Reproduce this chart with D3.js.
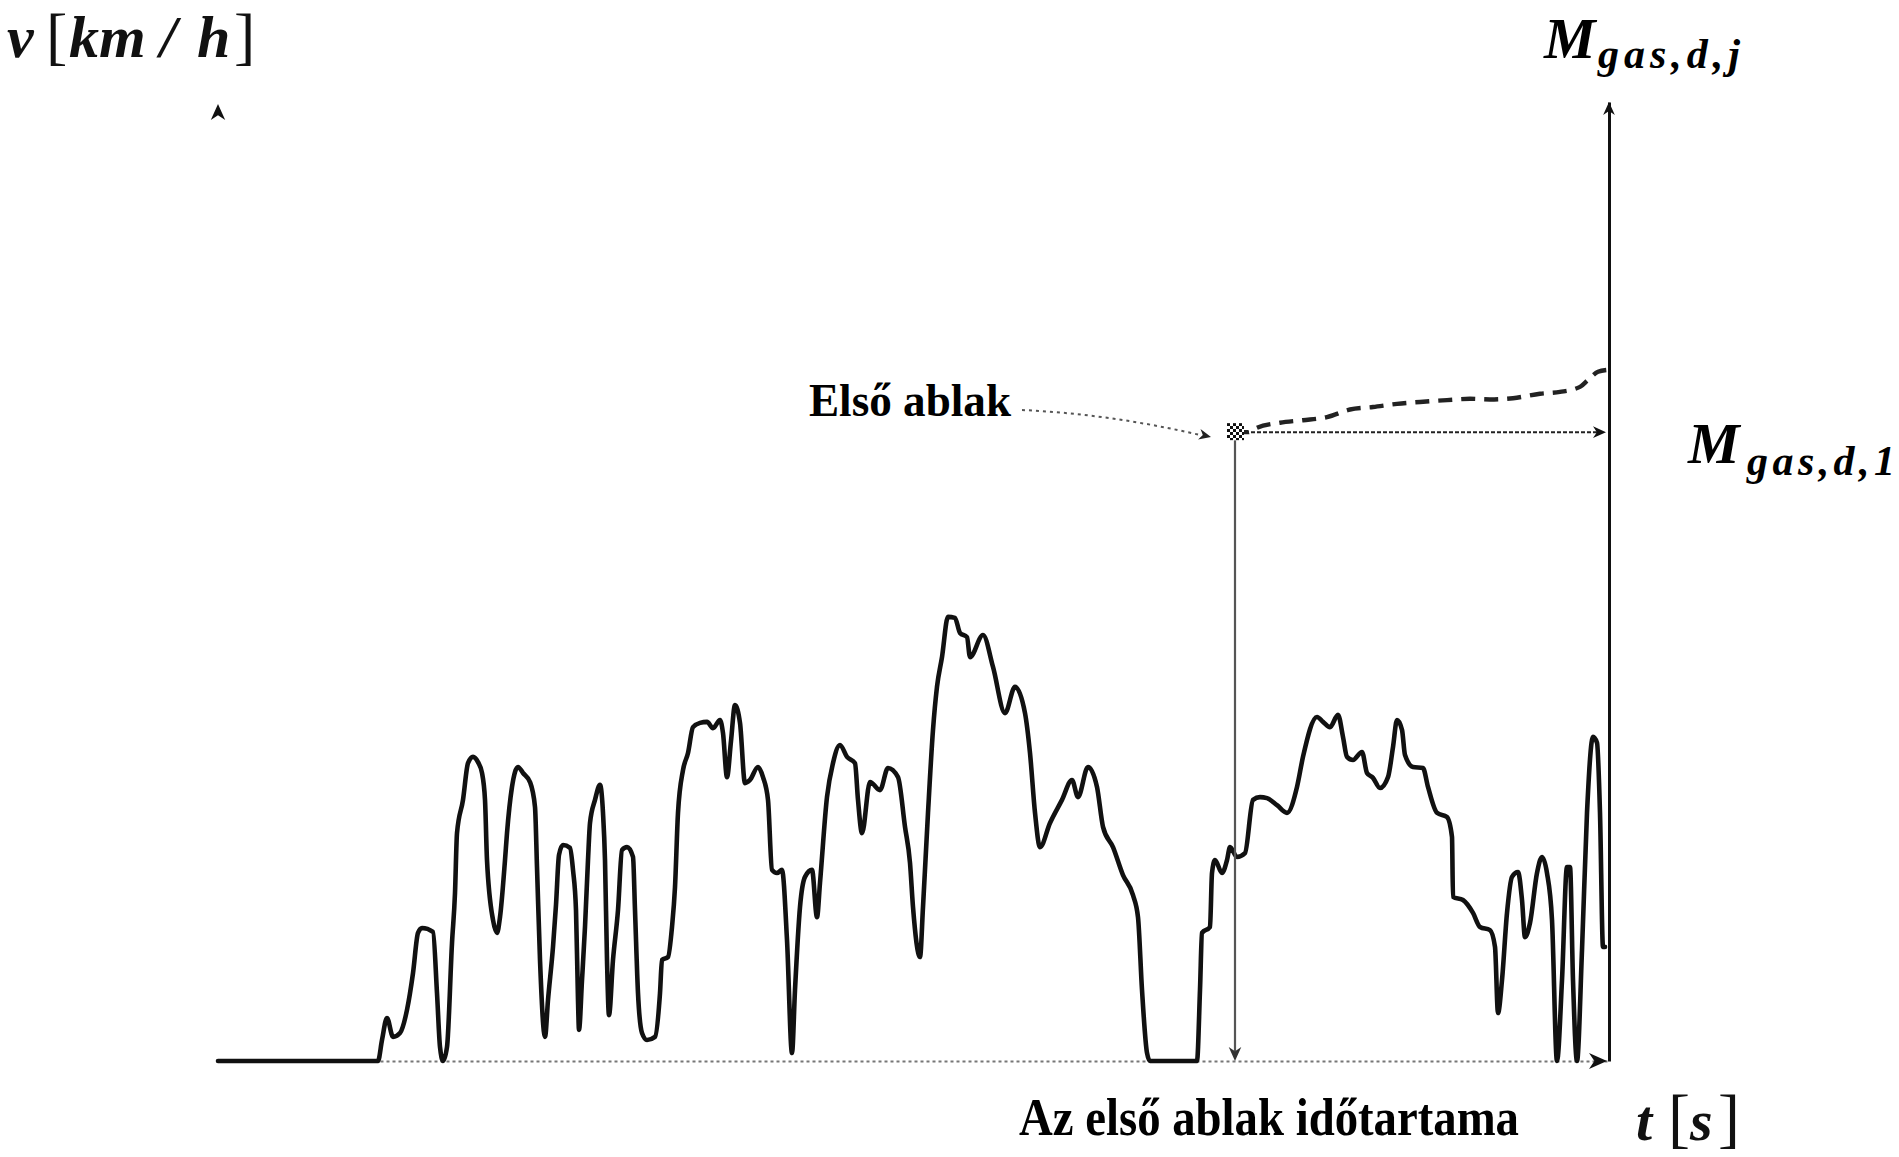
<!DOCTYPE html>
<html><head><meta charset="utf-8">
<script src="https://cdn.jsdelivr.net/npm/d3@7"></script>
<style>html,body{margin:0;padding:0;background:#fff;} svg{display:block;}</style>
</head><body>
<svg id="chart" width="1899" height="1157"></svg>
<script>
// ---- data ----
const timeS = [0,160,164,169,175,182,189,195,200,204,215,219,222,225,229,234,237,239,245,250,255,260,264,267,269,275,279,282,287,289,294,300,305,312,317,319,322,327,330,335,338,341,345,352,355,358,360,361,364,367,370,372,377,382,385,387,389,391,395,400,404,409,415,417,420,424,429,437,442,444,450,454,457,460,465,470,475,482,489,495,502,505,509,513,517,522,527,532,540,545,550,554,559,564,569,574,577,582,587,594,599,602,609,615,622,629,637,640,644,652,662,670,680,687,692,695,702,705,710,715,719,724,730,737,742,749,752,765,775,787,797,807,812,817,822,832,844,854,860,870,879,885,895,905,915,920,924,929,932,979,982,984,992,994,997,1004,1009,1012,1019,1027,1035,1042,1049,1059,1069,1079,1085,1099,1105,1112,1120,1125,1129,1135,1144,1149,1155,1162,1170,1175,1179,1184,1187,1195,1205,1210,1219,1229,1234,1235,1245,1255,1262,1272,1277,1280,1284,1289,1294,1300,1304,1307,1312,1319,1324,1329,1334,1339,1344,1349,1352,1355,1359,1364,1369,1375,1379,1382,1385,1387];
const speedKmh = [0,0,6.0,12.3,6.9,8.0,14.6,25.1,36.6,38.0,36.9,19.4,4.0,0,4.0,33.7,48.0,65.1,74.6,85.1,86.9,85.4,82.3,74.6,57.4,40.3,36.6,41.1,57.4,65.1,78.3,84.0,82.3,79.7,72.6,55.4,28.9,6.9,17.4,32.6,44.6,58.9,61.7,60.9,54.6,43.1,17.4,8.9,23.1,38.3,57.4,68.0,74.6,78.9,70.9,57.4,28.9,13.1,28.9,43.1,60.3,61.1,58.3,43.1,19.4,8.0,6.0,6.9,19.4,28.9,29.7,38.3,49.7,70.9,83.1,88.0,95.4,96.6,96.9,95.1,97.4,93.7,81.1,91.4,101.7,96.6,79.4,80.3,84.0,81.1,74.6,54.6,53.7,54.6,34.6,2.3,20.3,44.0,52.6,54.6,41.1,50.9,75.4,85.1,90.3,86.9,85.1,74.6,65.1,79.7,77.4,83.7,81.1,66.9,56.6,44.0,29.7,44.0,70.9,94.6,106.9,115.4,126.9,126.6,122.3,121.1,115.4,121.7,112.6,99.4,106.9,99.4,88.0,70.9,61.1,68.0,74.6,80.3,75.4,84.0,78.3,66.9,61.1,53.1,47.4,41.1,20.3,2.3,0,0,20.3,36.6,38.3,53.7,57.4,53.7,57.4,61.1,58.3,59.4,74.6,75.4,75.1,73.1,70.9,78.3,86.9,98.3,96.9,95.4,98.9,92.6,86.9,86.0,88.3,82.3,80.9,78.0,81.1,89.7,97.4,94.6,87.4,84.0,83.7,78.3,70.9,69.7,64.0,46.9,46.0,42.3,38.3,37.4,32.6,13.7,23.1,42.3,52.6,54.0,46.0,35.4,39.4,53.7,58.3,53.7,40.3,0,23.1,55.4,55.4,23.1,0,31.7,70.9,92.6,90.9,70.9,32.6,32.6];
const massTime  = [1017,1030,1039,1062,1085,1109,1132,1155,1179,1202,1229,1252,1272,1295,1322,1342,1362,1370,1380,1389];
const massRatio = [1.000,1.000,1.007,1.015,1.019,1.024,1.036,1.040,1.045,1.048,1.051,1.053,1.052,1.054,1.061,1.064,1.072,1.083,1.096,1.099];
const windowEndTime = 1017;
const windowMass = 1.0;
const tMax = 1391;
const yLabelParts = ["v","[","k","m","/","h","]"];
const xLabelParts = ["t","[","s","]"];
const massTopSub = "gas,d,j";
const massOneSub = "gas,d,1";
const windowLabel = "Első ablak";
const durationLabel = "Az első ablak időtartama";

// ---- scales ----
const svg = d3.select("#chart");
const x = d3.scaleLinear().domain([0, tMax]).range([218, 1609]);
const y = d3.scaleLinear().domain([0, 150]).range([1061, 536]);
const m = d3.scaleLinear().domain([0, 1.525]).range([1061, 102]);

const defs = svg.append("defs");
const pat = defs.append("pattern").attr("id","checker").attr("width",6).attr("height",6)
  .attr("patternUnits","userSpaceOnUse");
pat.append("rect").attr("width",6).attr("height",6).attr("fill","#fff");
pat.append("rect").attr("width",3).attr("height",3).attr("fill","#111");
pat.append("rect").attr("x",3).attr("y",3).attr("width",3).attr("height",3).attr("fill","#111");

function arrow(px, py, angleDeg, size, color) {
  const s = size;
  svg.append("path")
    .attr("d", `M0,0 L${-s*0.45},${s} L0,${s*0.7} L${s*0.45},${s} Z`)
    .attr("transform", `translate(${px},${py}) rotate(${angleDeg})`)
    .attr("fill", color || "#111");
}

// x axis (dotted baseline)
const gx = svg.append("g").attr("transform", `translate(0,${y(0)})`)
  .call(d3.axisBottom(x).tickValues([]).tickSizeOuter(0));
gx.select(".domain").attr("stroke","#777").attr("stroke-width",2).attr("stroke-dasharray","3,3");
arrow(x(tMax)-2, y(0), 90, 18);

// right axis (mass)
const gm = svg.append("g").attr("transform", `translate(${x(tMax)},0)`)
  .call(d3.axisRight(m).tickValues([]).tickSizeOuter(0));
gm.select(".domain").attr("stroke","#111").attr("stroke-width",3);
arrow(x(tMax), m.range()[1], 0, 13);

// left axis arrowhead only
arrow(x(0), 104, 0, 16);

// speed curve
const line = d3.line().x((d,i)=>x(timeS[i])).y((d,i)=>y(speedKmh[i])).curve(d3.curveMonotoneX);
svg.append("path").datum(speedKmh).attr("d", line)
  .attr("fill","none").attr("stroke","#111").attr("stroke-width",4.6)
  .attr("stroke-linejoin","round").attr("stroke-linecap","round");

// window end vertical line
svg.append("line").attr("x1", x(windowEndTime)).attr("x2", x(windowEndTime))
  .attr("y1", m(windowMass)+8).attr("y2", y(0)-10)
  .attr("stroke","#555").attr("stroke-width",2.2);
arrow(x(windowEndTime), y(0), 180, 14, "#333");

// horizontal line to the mass axis
svg.append("line").attr("x1", x(windowEndTime)+10).attr("x2", x(tMax)-8)
  .attr("y1", m(windowMass)).attr("y2", m(windowMass))
  .attr("stroke","#222").attr("stroke-width",2).attr("stroke-dasharray","4,2");
arrow(x(tMax)-3, m(windowMass), 90, 13);

// cumulative mass dashed curve
const mline = d3.line().x((d,i)=>x(massTime[i])).y((d,i)=>m(massRatio[i])).curve(d3.curveMonotoneX);
svg.append("path").datum(massRatio).attr("d", mline)
  .attr("fill","none").attr("stroke","#222").attr("stroke-width",4.4)
  .attr("stroke-dasharray","14,9");

// marker
svg.append("rect").attr("x", x(windowEndTime)-8).attr("y", m(windowMass)-9)
  .attr("width",17).attr("height",17).attr("fill","url(#checker)");

// pointer from label
svg.append("path")
  .attr("d", `M1022,410 Q1110,414 1200,435`)
  .attr("fill","none").attr("stroke","#555").attr("stroke-width",2).attr("stroke-dasharray","3,4");
arrow(1211, 437, 103, 12, "#222");

// ---- texts ----
const serif = "'Liberation Serif','DejaVu Serif',serif";
svg.append("text").attr("x",809).attr("y",416).attr("font-family",serif).attr("font-weight","bold")
  .attr("font-size",46).attr("textLength",202).attr("lengthAdjust","spacingAndGlyphs").text(windowLabel);
svg.append("text").attr("x",1019).attr("y",1135).attr("font-family",serif).attr("font-weight","bold")
  .attr("font-size",52).attr("textLength",500).attr("lengthAdjust","spacingAndGlyphs").text(durationLabel);

// y label v[km/h]
const yLabX = [7,46,69,99,160,197,234];
const yl = svg.append("text").attr("y",57).attr("font-family",serif).attr("font-weight","bold").attr("fill","#111");
yLabelParts.forEach((c,i)=>{
  const br = (c==="["||c==="]");
  yl.append("tspan").attr("x",yLabX[i]).attr("font-style", br?"normal":"italic")
    .attr("font-size", br?64:60).attr("font-weight", br?"normal":"bold").text(c);
});

// x label t[s]
const xLabX = [1636,1668,1690,1718];
const xl = svg.append("text").attr("y",1140).attr("font-family",serif).attr("font-weight","bold").attr("fill","#111");
xLabelParts.forEach((c,i)=>{
  const br = (c==="["||c==="]");
  xl.append("tspan").attr("x",xLabX[i]).attr("font-style", br?"normal":"italic")
    .attr("font-size", br?66:58).attr("font-weight", br?"normal":"bold").text(c);
});

// M_{gas,d,j}
svg.append("text").attr("x",1544).attr("y",58).attr("font-family",serif).attr("font-weight","bold")
  .attr("font-style","italic").attr("font-size",58).text("M");
svg.append("text").attr("x",1598).attr("y",68).attr("font-family",serif).attr("font-weight","bold")
  .attr("font-style","italic").attr("font-size",42).attr("textLength",142).attr("lengthAdjust","spacing").text(massTopSub);
// M_{gas,d,1}
svg.append("text").attr("x",1688).attr("y",463).attr("font-family",serif).attr("font-weight","bold")
  .attr("font-style","italic").attr("font-size",58).text("M");
svg.append("text").attr("x",1747).attr("y",475).attr("font-family",serif).attr("font-weight","bold")
  .attr("font-style","italic").attr("font-size",42).attr("textLength",148).attr("lengthAdjust","spacing").text(massOneSub);
</script>
</body></html>
